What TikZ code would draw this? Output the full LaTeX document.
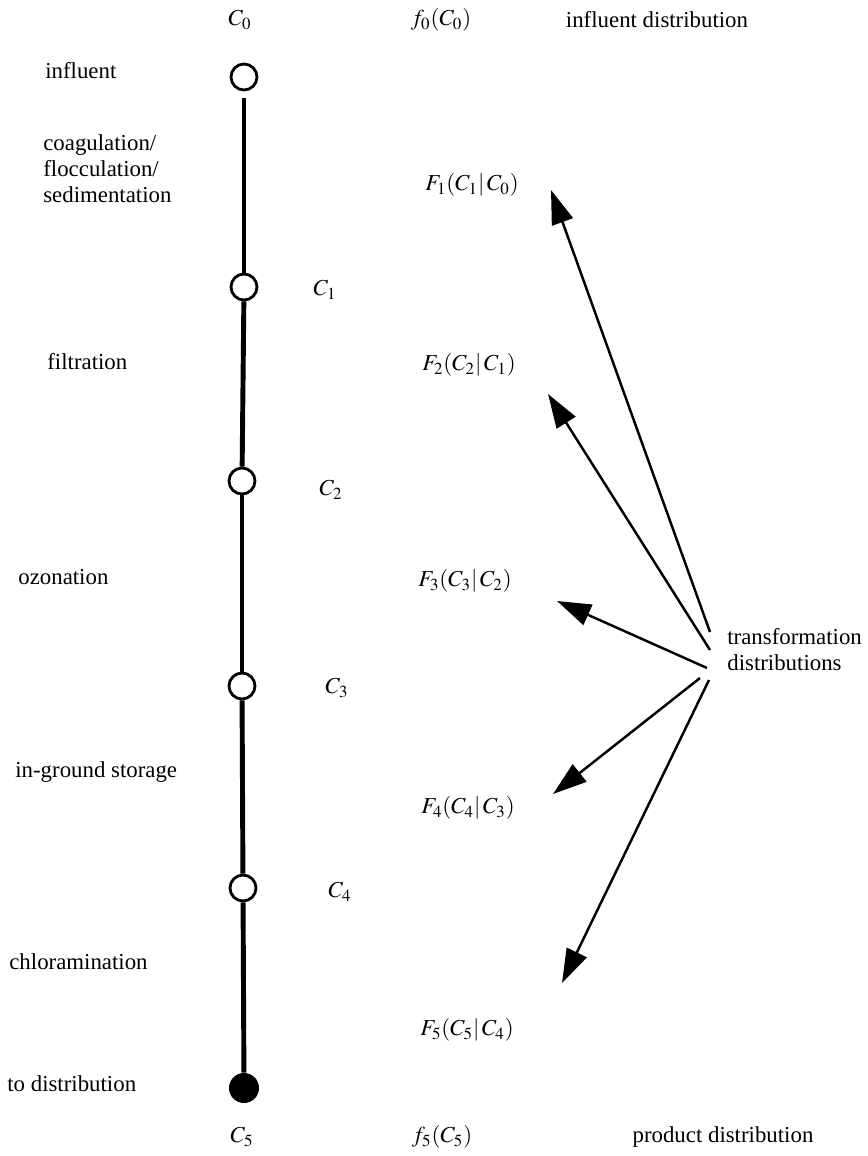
\documentclass[tikz,border=0pt]{standalone}
\usepackage{mathptmx}
\usepackage{fontspec}
\setmainfont{Liberation Serif}
\usetikzlibrary{arrows.meta, positioning}

\begin{document}
\begin{tikzpicture}[
    x=0.02cm, y=-0.02cm,
    every node/.style={font=\fontsize{13}{14.7}\selectfont, inner sep=0pt},
    stage/.style={circle, draw, line width=1.6pt, minimum size=0.52cm, fill=white},
    outlet/.style={circle, fill=black, minimum size=0.6cm},
    pipe/.style={line width=2.8pt},
    arrow/.style={-{Triangle[length=0.68cm, width=0.44cm]}, line width=1.4pt},
    process/.style={anchor=mid west, align=left}
]
\useasboundingbox (0,0) rectangle (868,1156);

% treatment train
\node[stage] (c0) at (244,77) {};
\node[stage] (c1) at (244,287) {};
\node[stage] (c2) at (242,481) {};
\node[stage] (c3) at (242,686) {};
\node[stage] (c4) at (243,888) {};
\node[outlet] (c5) at (244,1088) {};

\draw[pipe, shorten <=0.14cm] (c0) -- (c1);
\draw[pipe] (c1) -- (c2);
\draw[pipe] (c2) -- (c3);
\draw[pipe] (c3) -- (c4);
\draw[pipe] (c4) -- (c5);

% processes
\node[process] (p0) at (45,74) {influent};
\node[process] (p1) at (43,198) {coagulation/\\flocculation/\\sedimentation};
\node[process] (p2) at (47,365) {filtration};
\node[process] (p3) at (18,580) {ozonation};
\node[process] (p4) at (15,773) {in-ground storage};
\node[process] (p5) at (9,965) {chloramination};
\node[process] (p6) at (7,1087) {to distribution};

% concentrations
\node (v0) at (240,20) {$C_0$};
\node (v1) at (325,290) {$C_1$};
\node (v2) at (331,490) {$C_2$};
\node (v3) at (337,688) {$C_3$};
\node (v4) at (340,892) {$C_4$};
\node (v5) at (242,1137) {$C_5$};

% distributions
\node (d0) at (441,20) {$f_0(C_0)$};
\node (d5) at (442,1137) {$f_5(C_5)$};
\node (in) at (657,20) {influent distribution};
\node (out) at (723,1137) {product distribution};

\node (t1) at (472,185) {$F_1(C_1|\,C_0)$};
\node (t2) at (469,365) {$F_2(C_2|\,C_1)$};
\node (t3) at (465,581) {$F_3(C_3|\,C_2)$};
\node (t4) at (468,808) {$F_4(C_4|\,C_3)$};
\node (t5) at (467,1030) {$F_5(C_5|\,C_4)$};

\node[process] (td) at (727,666) {transformation\\distributions};

\coordinate (s1) at (710,632);
\coordinate (s2) at (710,650);
\coordinate (s3) at (707,668);
\coordinate (s4) at (700,678);
\coordinate (s5) at (709,680);
\coordinate (a1) at (551,190);
\coordinate (a2) at (548,394);
\coordinate (a3) at (557,601);
\coordinate (a4) at (553,794);
\coordinate (a5) at (562,983);

\draw[arrow] (s1) -- (a1);
\draw[arrow] (s2) -- (a2);
\draw[arrow] (s3) -- (a3);
\draw[arrow] (s4) -- (a4);
\draw[arrow] (s5) -- (a5);
\end{tikzpicture}
\end{document}
